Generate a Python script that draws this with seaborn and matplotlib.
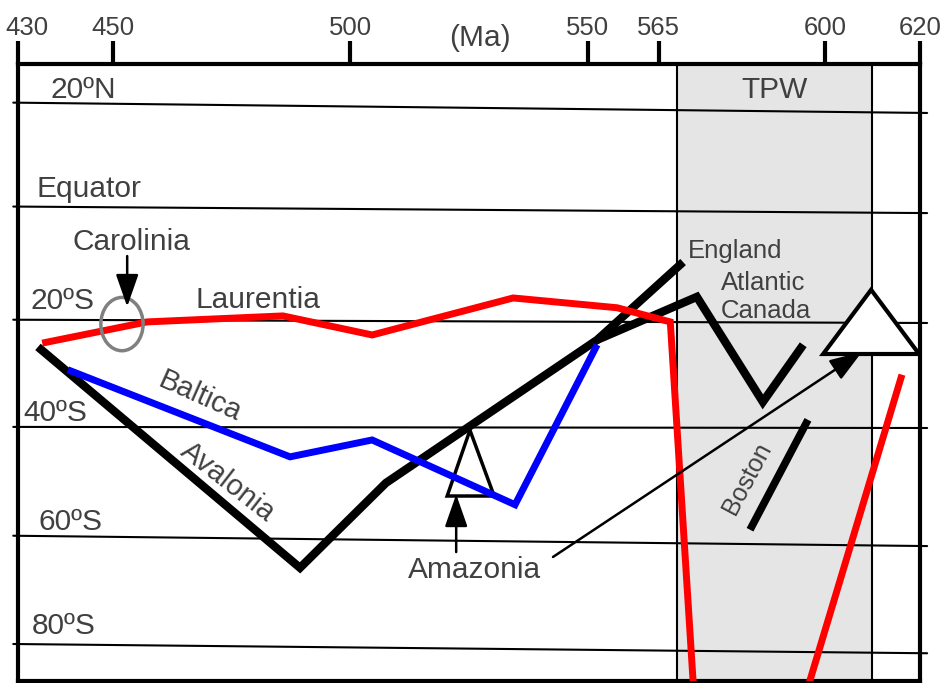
import numpy as np
import pandas as pd
import matplotlib
matplotlib.use("Agg")
import matplotlib.pyplot as plt
from matplotlib.patches import Ellipse, Polygon
from matplotlib.transforms import ScaledTranslation
import seaborn as sns

# --- paleolatitude paths: age (Ma) vs latitude (deg, south negative) ---
laurentia_ma = [435.1, 457.2, 485.8, 504.6, 534.3, 556.2, 567.4, 572.3]
laurentia_lat = [-24.5, -20.6, -19.5, -23.0, -16.2, -18.0, -20.6, -88.0]
laurentia2_ma = [616.2, 596.3]
laurentia2_lat = [-30.3, -88.0]
baltica_ma = [440.5, 487.3, 504.6, 534.7, 552.0]
baltica_lat = [-29.4, -45.4, -42.3, -54.2, -24.8]
avalonia_ma = [434.2, 489.4, 507.5, 552.0, 570.1]
avalonia_lat = [-25.2, -65.8, -50.2, -23.9, -9.6]
atl_canada_ma = [552.0, 573.0, 586.9, 595.4]
atl_canada_lat = [-23.9, -16.0, -35.3, -24.8]
boston_ma = [596.4, 584.2]
boston_lat = [-38.6, -58.8]

# poles / markers
carolinia_ma, carolinia_lat = 451.9, -21.0
amazonia_tri_ma = [525.2, 520.4, 530.3]
amazonia_tri_lat = [-40.5, -52.6, -52.6]
big_tri_ma = [609.7, 599.6, 619.8]
big_tri_lat = [-14.7, -26.5, -26.5]

# true polar wander interval
tpw_start, tpw_end = 568.8, 609.9

# latitude reference lines (slightly tilted in the original drawing)
lat_names = ["20ºN", "Equator", "20ºS", "40ºS", "60ºS", "80ºS"]
lat_left = [19.7, 0.6, -20.2, -39.9, -59.9, -79.8]
lat_right = [17.8, -0.6, -20.8, -40.1, -61.8, -81.5]

age_ticks = [430, 450, 500, 550, 565, 600, 620]

# ====================================================
sns.set_theme(style="white")
plt.rcParams['font.family'] = ['Liberation Sans', 'DejaVu Sans']
txt = "#404040"

fig = plt.figure(figsize=(9.46, 6.83), dpi=100)
ax = fig.add_axes([18/946, 2/683, 902/946, 617/683])
ax.set_xlim(430, 620)
ax.set_ylim(-86.6, 26.8)

# TPW band
ax.axvspan(tpw_start, tpw_end, facecolor="#e5e5e5", edgecolor="black", lw=1.5, zorder=0.5)
ax.text((tpw_start + tpw_end) / 2, 22.1, "TPW", ha="center", va="center", fontsize=21.5, color=txt)

# latitude lines
for name, l0, l1 in zip(lat_names, lat_left, lat_right):
    ax.plot([429.0, 621.5], [l0, l1], color="black", lw=1.5, zorder=1, clip_on=False)

lab_pos = {"20ºN": (443.7, 22.1), "Equator": (445.0, 3.9), "20ºS": (439.3, -16.7),
           "40ºS": (437.8, -37.3), "60ºS": (441.0, -57.4), "80ºS": (439.7, -76.5)}
for name in lat_names:
    x, y = lab_pos[name]
    ax.text(x, y, name, ha="center", va="center", fontsize=21.5, color=txt, zorder=3)

# paths
kw = dict(sort=False, estimator=None, ax=ax, solid_joinstyle="miter", solid_capstyle="butt")
sns.lineplot(x=avalonia_ma, y=avalonia_lat, color="black", lw=6, zorder=4, **kw)
sns.lineplot(x=atl_canada_ma, y=atl_canada_lat, color="black", lw=6, zorder=4, **kw)
sns.lineplot(x=boston_ma, y=boston_lat, color="black", lw=5.5, zorder=4, **kw)
sns.lineplot(x=laurentia_ma, y=laurentia_lat, color="#ff0000", lw=5, zorder=5, **kw)
sns.lineplot(x=laurentia2_ma, y=laurentia2_lat, color="#ff0000", lw=5, zorder=5, **kw)

ax.add_patch(Polygon(list(zip(amazonia_tri_ma, amazonia_tri_lat)), closed=True,
                     fill=False, ec="black", lw=2.5, zorder=5))
sns.lineplot(x=baltica_ma, y=baltica_lat, color="#0000ff", lw=5, zorder=6, **kw)

ax.add_patch(Ellipse((carolinia_ma, carolinia_lat), width=8.9, height=9.8,
                     fill=False, ec="#808080", lw=2.5, zorder=6))
ax.add_patch(Polygon(list(zip(big_tri_ma, big_tri_lat)), closed=True,
                     fc="white", ec="black", lw=3, zorder=6))

# arrows
arr = dict(arrowstyle="-|>,head_length=1.0,head_width=0.35", color="black",
           lw=1.8, mutation_scale=20, shrinkA=0, shrinkB=0)
ax.annotate("", xy=(453.0, -17.8), xytext=(453.0, -8.5), arrowprops=arr, zorder=7)
ax.annotate("", xy=(522.3, -52.3), xytext=(522.3, -62.9), arrowprops=arr, zorder=7)
ax.annotate("", xy=(607.8, -26.1), xytext=(542.7, -63.8), arrowprops=arr, zorder=7)

# labels
ax.text(454.0, -5.9, "Carolinia", ha="center", va="center", fontsize=21.5, color=txt)
ax.text(480.6, -16.5, "Laurentia", ha="center", va="center", fontsize=21.5, color=txt)
ax.text(468.3, -34.4, "Baltica", ha="center", va="center", fontsize=21, color=txt, rotation=-24)
ax.text(474.2, -50.0, "Avalonia", ha="center", va="center", fontsize=21, color=txt, rotation=-38)
ax.text(526.1, -66.2, "Amazonia", ha="center", va="center", fontsize=21.5, color=txt)
ax.text(581.0, -7.5, "England", ha="center", va="center", fontsize=18.5, color=txt)
ax.text(586.9, -13.4, "Atlantic", ha="center", va="center", fontsize=18.5, color=txt)
ax.text(587.6, -18.6, "Canada", ha="center", va="center", fontsize=18.5, color=txt)
ax.text(583.6, -49.3, "Boston", ha="center", va="center", fontsize=18, color=txt, rotation=62)
ax.text(527.3, 31.6, "(Ma)", ha="center", va="center", fontsize=21.5, color=txt, clip_on=False)

# axis on top
ax.xaxis.tick_top()
ax.set_xticks(age_ticks)
ax.set_xticklabels([str(t) for t in age_ticks])
ax.tick_params(axis="x", which="major", top=True, bottom=False, direction="out",
               length=16.5, width=3, labelsize=18.5, pad=1,
               color="black", labelcolor=txt)
ax.set_yticks([])
off = ScaledTranslation(9/100, 0, fig.dpi_scale_trans)
lbl0 = ax.get_xticklabels()[0]
lbl0.set_transform(lbl0.get_transform() + off)
for s in ax.spines.values():
    s.set_linewidth(3)
    s.set_color("black")
    s.set_visible(True)

fig.savefig("out.png", dpi=100)
